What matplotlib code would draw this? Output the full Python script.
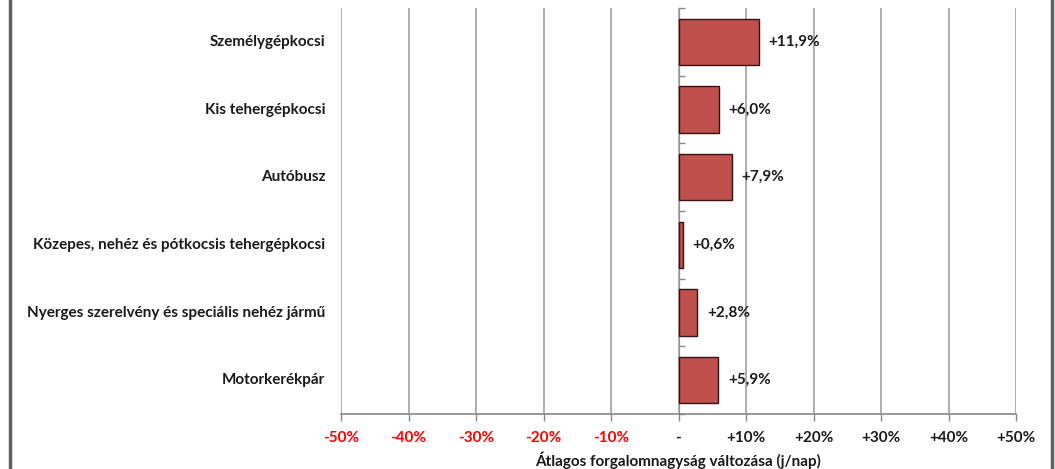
import matplotlib
matplotlib.use("Agg")
import matplotlib.pyplot as plt
from matplotlib.lines import Line2D
import numpy as np

categories = [
    "Személygépkocsi",
    "Kis tehergépkocsi",
    "Autóbusz",
    "Közepes, nehéz és pótkocsis tehergépkocsi",
    "Nyerges szerelvény és speciális nehéz jármű",
    "Motorkerékpár",
]
values = [11.9, 6.0, 7.9, 0.6, 2.8, 5.9]
tick_values = [-50, -40, -30, -20, -10, 0, 10, 20, 30, 40, 50]
tick_labels = ["-50%", "-40%", "-30%", "-20%", "-10%", "-", "+10%", "+20%", "+30%", "+40%", "+50%"]
xlabel = "Átlagos forgalomnagyság változása (j/nap)"

plt.rcParams['font.family'] = ['Lato', 'DejaVu Sans']
plt.rcParams['font.weight'] = 'bold'

FS = 11
W, H = 1055, 469
fig = plt.figure(figsize=(W / 100, H / 100), dpi=100)
ax = fig.add_axes([341 / W, 1 - 414 / H, (1016 - 341) / W, (414 - 8) / H])

pos = np.arange(len(categories))
ax.barh(pos, values, height=0.68, color="#C0504D", edgecolor="#3b1010", linewidth=1.0, zorder=3)

ax.set_xlim(-50, 50)
ax.set_ylim(len(categories) - 0.5, -0.5)

ax.set_xticks(tick_values)
ax.set_xticklabels(tick_labels, fontsize=FS, fontweight='bold')
for lbl, v in zip(ax.get_xticklabels(), tick_values):
    lbl.set_color("#FF0000" if v < 0 else "#1a1a1a")
ax.tick_params(axis='x', direction='out', length=5, color="#888888", width=1, pad=7)
ax.grid(axis='x', color="#a6a6a6", linewidth=1.3, zorder=0)
ax.set_axisbelow(True)

ax.set_yticks([])
for s in ['left', 'right', 'top']:
    ax.spines[s].set_visible(False)
ax.spines['bottom'].set_color("#888888")
ax.spines['bottom'].set_linewidth(1.2)

# zero axis with tick marks at category boundaries
sec = ax.secondary_yaxis(0.5)
sec.set_yticks(np.arange(len(categories) + 1) - 0.5)
sec.set_yticklabels([])
sec.tick_params(axis='y', direction='out', length=4, color="#888888", width=1)
sec.spines['left'].set_color("#888888")
sec.spines['left'].set_linewidth(1.2)

# category labels
for p, c in zip(pos, categories):
    ax.text(-0.023, p, c, transform=ax.get_yaxis_transform(), ha='right', va='center',
            fontsize=FS, fontweight='bold', color="#1a1a1a")

# value labels
for p, v in zip(pos, values):
    ax.annotate("+" + f"{v:.1f}".replace(".", ",") + "%", xy=(v, p), xytext=(7, 0),
                textcoords='offset points', ha='left', va='center',
                fontsize=FS, fontweight='bold', color="#1a1a1a")

ax.set_xlabel(xlabel, fontsize=FS, fontweight='bold', color="#1a1a1a", labelpad=5)

# outer frame lines
fig.add_artist(Line2D([10 / W, 10 / W], [0, 1], transform=fig.transFigure, color="#606060", linewidth=2.5))
fig.add_artist(Line2D([1052 / W, 1052 / W], [0, 1], transform=fig.transFigure, color="#606060", linewidth=2.5))

fig.savefig("out.png", dpi=100)
